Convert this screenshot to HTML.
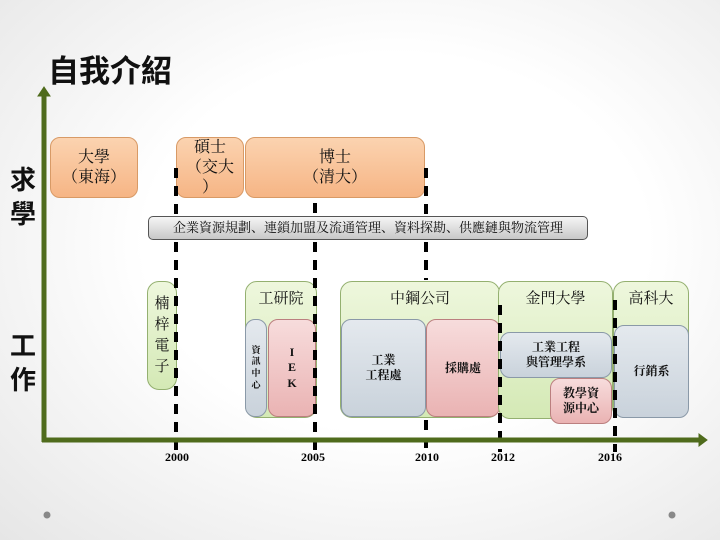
<!DOCTYPE html>
<html><head><meta charset="utf-8"><style>
body{margin:0}
#p{position:relative;width:720px;height:540px;overflow:hidden;background:radial-gradient(ellipse at 55% 45%,#fff 45%,#e6e6e6 100%);font-family:"Liberation Serif","Noto Serif CJK SC","Noto Sans CJK TC",serif;color:#111}
.b{position:absolute;box-sizing:border-box;display:flex;align-items:center;justify-content:center;text-align:center;line-height:1.25}
.o{background:linear-gradient(#fbd3b0,#f6b585);border:1px solid #d89a66;border-radius:10px;font-size:16px}
.g{background:linear-gradient(#eef7dd,#d4e9b5);border:1px solid #94b070;border-radius:12px;font-size:15px;align-items:flex-start;padding-top:8px}
.u{background:linear-gradient(#e4e9ee,#c9d2db);border:1px solid #8a99a8;border-radius:10px;font-size:12px;font-weight:bold}
.k{background:linear-gradient(#f7dcdc,#eab3b3);border:1px solid #bb7f7f;border-radius:10px;font-size:12px;font-weight:bold}
.t{position:absolute;font-weight:bold}
</style></head><body><div id="p">
<div class="t" style="left:48px;top:46px;font-size:31px;font-family:'Noto Sans CJK TC',sans-serif">自我介紹</div>
<div class="t" style="left:10px;top:162px;font-size:26px;line-height:34px;width:30px;font-family:'Noto Sans CJK TC',sans-serif">求<br>學</div>
<div class="t" style="left:10px;top:328px;font-size:26px;line-height:34px;width:30px;font-family:'Noto Sans CJK TC',sans-serif">工<br>作</div>

<div class="b o" style="left:50px;top:137px;width:88px;height:61px">大學<br>（東海）</div>
<div class="b o" style="left:176px;top:137px;width:68px;height:61px">碩士<br>（交大<br>）</div>
<div class="b o" style="left:245px;top:137px;width:180px;height:61px">博士<br>（清大）</div>
<div class="b" style="left:148px;top:216px;width:440px;height:24px;background:linear-gradient(#f5f5f5,#c8c8c8);border:1px solid #555;border-radius:5px;font-size:13px">企業資源規劃、連鎖加盟及流通管理、資料探勘、供應鏈與物流管理</div>

<div class="b g" style="left:147px;top:281px;width:30px;height:109px;align-items:center;padding:0;line-height:1.4">楠<br>梓<br>電<br>子</div>
<div class="b g" style="left:245px;top:281px;width:72px;height:137px">工研院</div>
<div class="b u" style="left:245px;top:319px;width:22px;height:98px;font-size:9px;line-height:1.3">資<br>訊<br>中<br>心</div>
<div class="b k" style="left:268px;top:319px;width:48px;height:98px;line-height:1.3">I<br>E<br>K</div>
<div class="b g" style="left:340px;top:281px;width:160px;height:137px">中鋼公司</div>
<div class="b u" style="left:341px;top:319px;width:85px;height:98px">工業<br>工程處</div>
<div class="b k" style="left:426px;top:319px;width:74px;height:98px">採購處</div>
<div class="b g" style="left:498px;top:281px;width:115px;height:138px">金門大學</div>
<div class="b u" style="left:500px;top:332px;width:112px;height:46px">工業工程<br>與管理學系</div>
<div class="b k" style="left:550px;top:378px;width:62px;height:46px">教學資<br>源中心</div>
<div class="b g" style="left:613px;top:281px;width:76px;height:137px">高科大</div>
<div class="b u" style="left:614px;top:325px;width:75px;height:93px">行銷系</div>

<svg width="720" height="540" style="position:absolute;left:0;top:0">
<g stroke="#000" stroke-width="4" stroke-dasharray="10,8">
<line x1="176" y1="168" x2="176" y2="214"/>
<line x1="176" y1="242" x2="176" y2="452"/>
<line x1="315" y1="203" x2="315" y2="214"/>
<line x1="315" y1="242" x2="315" y2="452"/>
<line x1="426" y1="168" x2="426" y2="214"/>
<line x1="426" y1="242" x2="426" y2="280"/>
<line x1="426" y1="420" x2="426" y2="452"/>
<line x1="500" y1="305" x2="500" y2="452"/>
<line x1="615" y1="300" x2="615" y2="452"/>
</g>
<g stroke="#4f6b1c" stroke-width="5" fill="#4f6b1c">
<line x1="44" y1="95" x2="44" y2="442"/>
<line x1="42" y1="440" x2="700" y2="440"/>
<polygon points="38,96 44,87 50,96" stroke-width="1"/>
<polygon points="699,434 707,440 699,446" stroke-width="1"/>
</g>
<circle cx="47" cy="515" r="3.5" fill="#888"/><circle cx="672" cy="515" r="3.5" fill="#888"/>
<g font-family="Liberation Serif,serif" font-size="12" font-weight="bold" text-anchor="middle">
<text x="177" y="461">2000</text><text x="313" y="461">2005</text><text x="427" y="461">2010</text><text x="503" y="461">2012</text><text x="610" y="461">2016</text>
</g></svg>
</div></body></html>
